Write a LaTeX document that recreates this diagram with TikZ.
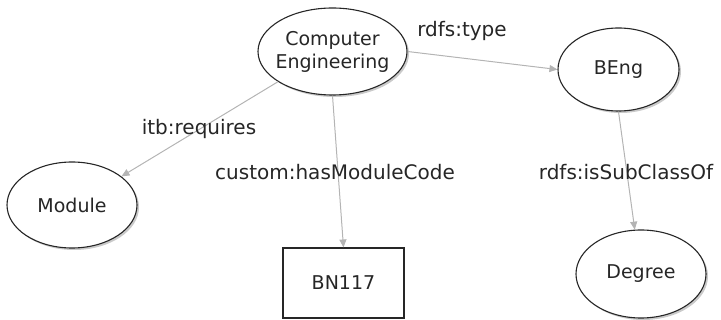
\documentclass[tikz,border=0pt]{standalone}
\usepackage{fontspec}
\setmainfont{DejaVu Sans}
\usetikzlibrary{shapes.geometric,arrows.meta,shadows}
\definecolor{edgegray}{HTML}{B4B4B4}
\definecolor{txt}{HTML}{262626}
\tikzset{
  cls/.style={ellipse, draw=black!85, line width=1.1pt, fill=white, inner sep=0pt, inner xsep=-6pt,
    text=txt, align=center, font=\fontsize{19}{23}\selectfont,
    drop shadow={shadow xshift=2pt, shadow yshift=-2pt, opacity=0.35, fill=black!60}},
  lit/.style={rectangle, draw=black!85, line width=1.1pt, fill=white, inner sep=0pt,
    text=txt, font=\fontsize{19}{23}\selectfont},
  rel/.style={draw=edgegray, line width=1pt, -{Triangle[length=8pt,width=7pt]}},
  lbl/.style={text=txt, inner sep=0pt, font=\fontsize{20}{24}\selectfont}
}
\begin{document}
\begin{tikzpicture}[x=1pt,y=-1pt]
\useasboundingbox (0,0) rectangle (721,320);
\node[cls, minimum width=149pt, minimum height=87pt] (ce) at (332.5,51.5) {Computer\\Engineering};
\node[cls, minimum width=121pt, minimum height=83pt] (beng) at (618.5,69.5) {BEng};
\node[cls, minimum width=130pt, minimum height=88pt] (deg) at (641,274) {Degree};
\node[cls, minimum width=130pt, minimum height=86pt] (mod) at (72,205) {Module};
\node[lit, minimum width=121pt, minimum height=70pt] (bn) at (343.5,283) {BN117};

\draw[rel] (ce.east) -- (beng.west);
\draw[rel] (ce.209) -- (mod.30);
\draw[rel] (ce.south) -- (bn.north);
\draw[rel] (beng.south) -- (deg.98);

\node[lbl] (l1) at (462,31) {rdfs:type};
\node[lbl] (l2) at (199,129) {itb:requires};
\node[lbl] (l3) at (335,172) {custom:hasModuleCode};
\node[lbl] (l4) at (626,172) {rdfs:isSubClassOf};
\end{tikzpicture}
\end{document}
